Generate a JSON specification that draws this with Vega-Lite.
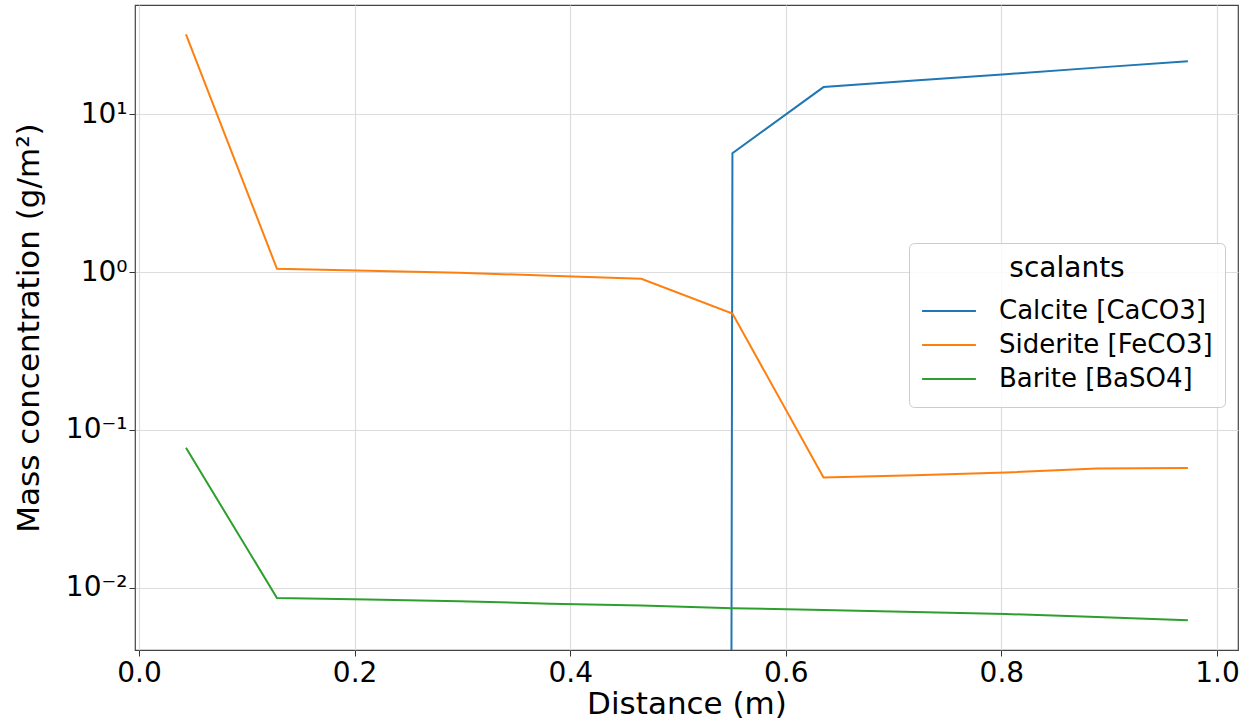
{
  "$schema": "https://vega.github.io/schema/vega-lite/v6.json",
  "autosize": "none",
  "width": 1103,
  "height": 645,
  "padding": {"left": 135, "top": 5, "right": 11, "bottom": 73},
  "background": "white",
  "config": {
    "font": "DejaVu Sans",
    "view": {"stroke": "#444444", "strokeWidth": 1.2},
    "axis": {
      "labelFont": "DejaVu Sans",
      "titleFont": "DejaVu Sans",
      "labelFontSize": 28,
      "titleFontSize": 31,
      "titleFontWeight": "normal",
      "labelColor": "#000000",
      "titleColor": "#000000",
      "tickColor": "#333333",
      "tickSize": 6,
      "domain": false,
      "gridColor": "#dddddd",
      "gridWidth": 1.2
    }
  },
  "data": {
    "values": [
      {"x": 0.0436, "v": 1e-300, "s": "Calcite [CaCO3]"},
      {"x": 0.128, "v": 1e-300, "s": "Calcite [CaCO3]"},
      {"x": 0.2125, "v": 1e-300, "s": "Calcite [CaCO3]"},
      {"x": 0.297, "v": 1e-300, "s": "Calcite [CaCO3]"},
      {"x": 0.3815, "v": 1e-300, "s": "Calcite [CaCO3]"},
      {"x": 0.466, "v": 1e-300, "s": "Calcite [CaCO3]"},
      {"x": 0.5505, "v": 5.68, "s": "Calcite [CaCO3]"},
      {"x": 0.635, "v": 14.9, "s": "Calcite [CaCO3]"},
      {"x": 0.7195, "v": 16.4, "s": "Calcite [CaCO3]"},
      {"x": 0.804, "v": 18.0, "s": "Calcite [CaCO3]"},
      {"x": 0.8885, "v": 19.8, "s": "Calcite [CaCO3]"},
      {"x": 0.973, "v": 21.7, "s": "Calcite [CaCO3]"},
      {"x": 0.0436, "v": 32.2, "s": "Siderite [FeCO3]"},
      {"x": 0.128, "v": 1.05, "s": "Siderite [FeCO3]"},
      {"x": 0.2125, "v": 1.02, "s": "Siderite [FeCO3]"},
      {"x": 0.297, "v": 0.99, "s": "Siderite [FeCO3]"},
      {"x": 0.3815, "v": 0.95, "s": "Siderite [FeCO3]"},
      {"x": 0.466, "v": 0.907, "s": "Siderite [FeCO3]"},
      {"x": 0.5505, "v": 0.547, "s": "Siderite [FeCO3]"},
      {"x": 0.635, "v": 0.0499, "s": "Siderite [FeCO3]"},
      {"x": 0.7195, "v": 0.0515, "s": "Siderite [FeCO3]"},
      {"x": 0.804, "v": 0.0537, "s": "Siderite [FeCO3]"},
      {"x": 0.8885, "v": 0.0568, "s": "Siderite [FeCO3]"},
      {"x": 0.973, "v": 0.0574, "s": "Siderite [FeCO3]"},
      {"x": 0.0436, "v": 0.0769, "s": "Barite [BaSO4]"},
      {"x": 0.128, "v": 0.0086, "s": "Barite [BaSO4]"},
      {"x": 0.2125, "v": 0.0084, "s": "Barite [BaSO4]"},
      {"x": 0.297, "v": 0.0082, "s": "Barite [BaSO4]"},
      {"x": 0.3815, "v": 0.0079, "s": "Barite [BaSO4]"},
      {"x": 0.466, "v": 0.0077, "s": "Barite [BaSO4]"},
      {"x": 0.5505, "v": 0.0074, "s": "Barite [BaSO4]"},
      {"x": 0.635, "v": 0.0072, "s": "Barite [BaSO4]"},
      {"x": 0.7195, "v": 0.0070, "s": "Barite [BaSO4]"},
      {"x": 0.804, "v": 0.0068, "s": "Barite [BaSO4]"},
      {"x": 0.8885, "v": 0.0065, "s": "Barite [BaSO4]"},
      {"x": 0.973, "v": 0.0062, "s": "Barite [BaSO4]"}
    ]
  },
  "mark": {"type": "line", "strokeWidth": 2, "clip": true},
  "encoding": {
    "x": {
      "field": "x",
      "type": "quantitative",
      "scale": {"domain": [-0.0037, 1.0195], "nice": false, "zero": false},
      "axis": {
        "title": "Distance (m)",
        "values": [0, 0.2, 0.4, 0.6, 0.8, 1.0],
        "format": ".1f",
        "labelPadding": 3,
        "titlePadding": 2
      }
    },
    "y": {
      "field": "v",
      "type": "quantitative",
      "scale": {"type": "log", "domain": [0.00402, 49.4], "nice": false},
      "axis": {
        "title": "Mass concentration (g/m²)",
        "values": [0.01, 0.1, 1, 10],
        "labelExpr": "datum.value >= 5 ? '10¹' : datum.value >= 0.5 ? '10⁰' : datum.value >= 0.05 ? '10⁻¹' : '10⁻²'",
        "labelPadding": 2,
        "titlePadding": 20
      }
    },
    "color": {
      "field": "s",
      "type": "nominal",
      "sort": ["Calcite [CaCO3]", "Siderite [FeCO3]", "Barite [BaSO4]"],
      "scale": {
        "domain": ["Calcite [CaCO3]", "Siderite [FeCO3]", "Barite [BaSO4]"],
        "range": ["#1f77b4", "#ff7f0e", "#2ca02c"]
      },
      "legend": {
        "title": "scalants",
        "orient": "none",
        "legendX": 774,
        "legendY": 238,
        "titleFont": "DejaVu Sans",
        "titleFontSize": 28,
        "titleFontWeight": "normal",
        "titleColor": "#000000",
        "titleAnchor": "middle",
        "titlePadding": 12,
        "labelFont": "DejaVu Sans",
        "labelFontSize": 26,
        "labelColor": "#000000",
        "labelLimit": 0,
        "labelOffset": 22,
        "symbolType": "stroke",
        "symbolSize": 2900,
        "symbolStrokeWidth": 2,
        "clipHeight": 32,
        "rowPadding": 2,
        "padding": 12,
        "fillColor": "rgba(255,255,255,0.85)",
        "strokeColor": "#cccccc",
        "cornerRadius": 5
      }
    }
  }
}
